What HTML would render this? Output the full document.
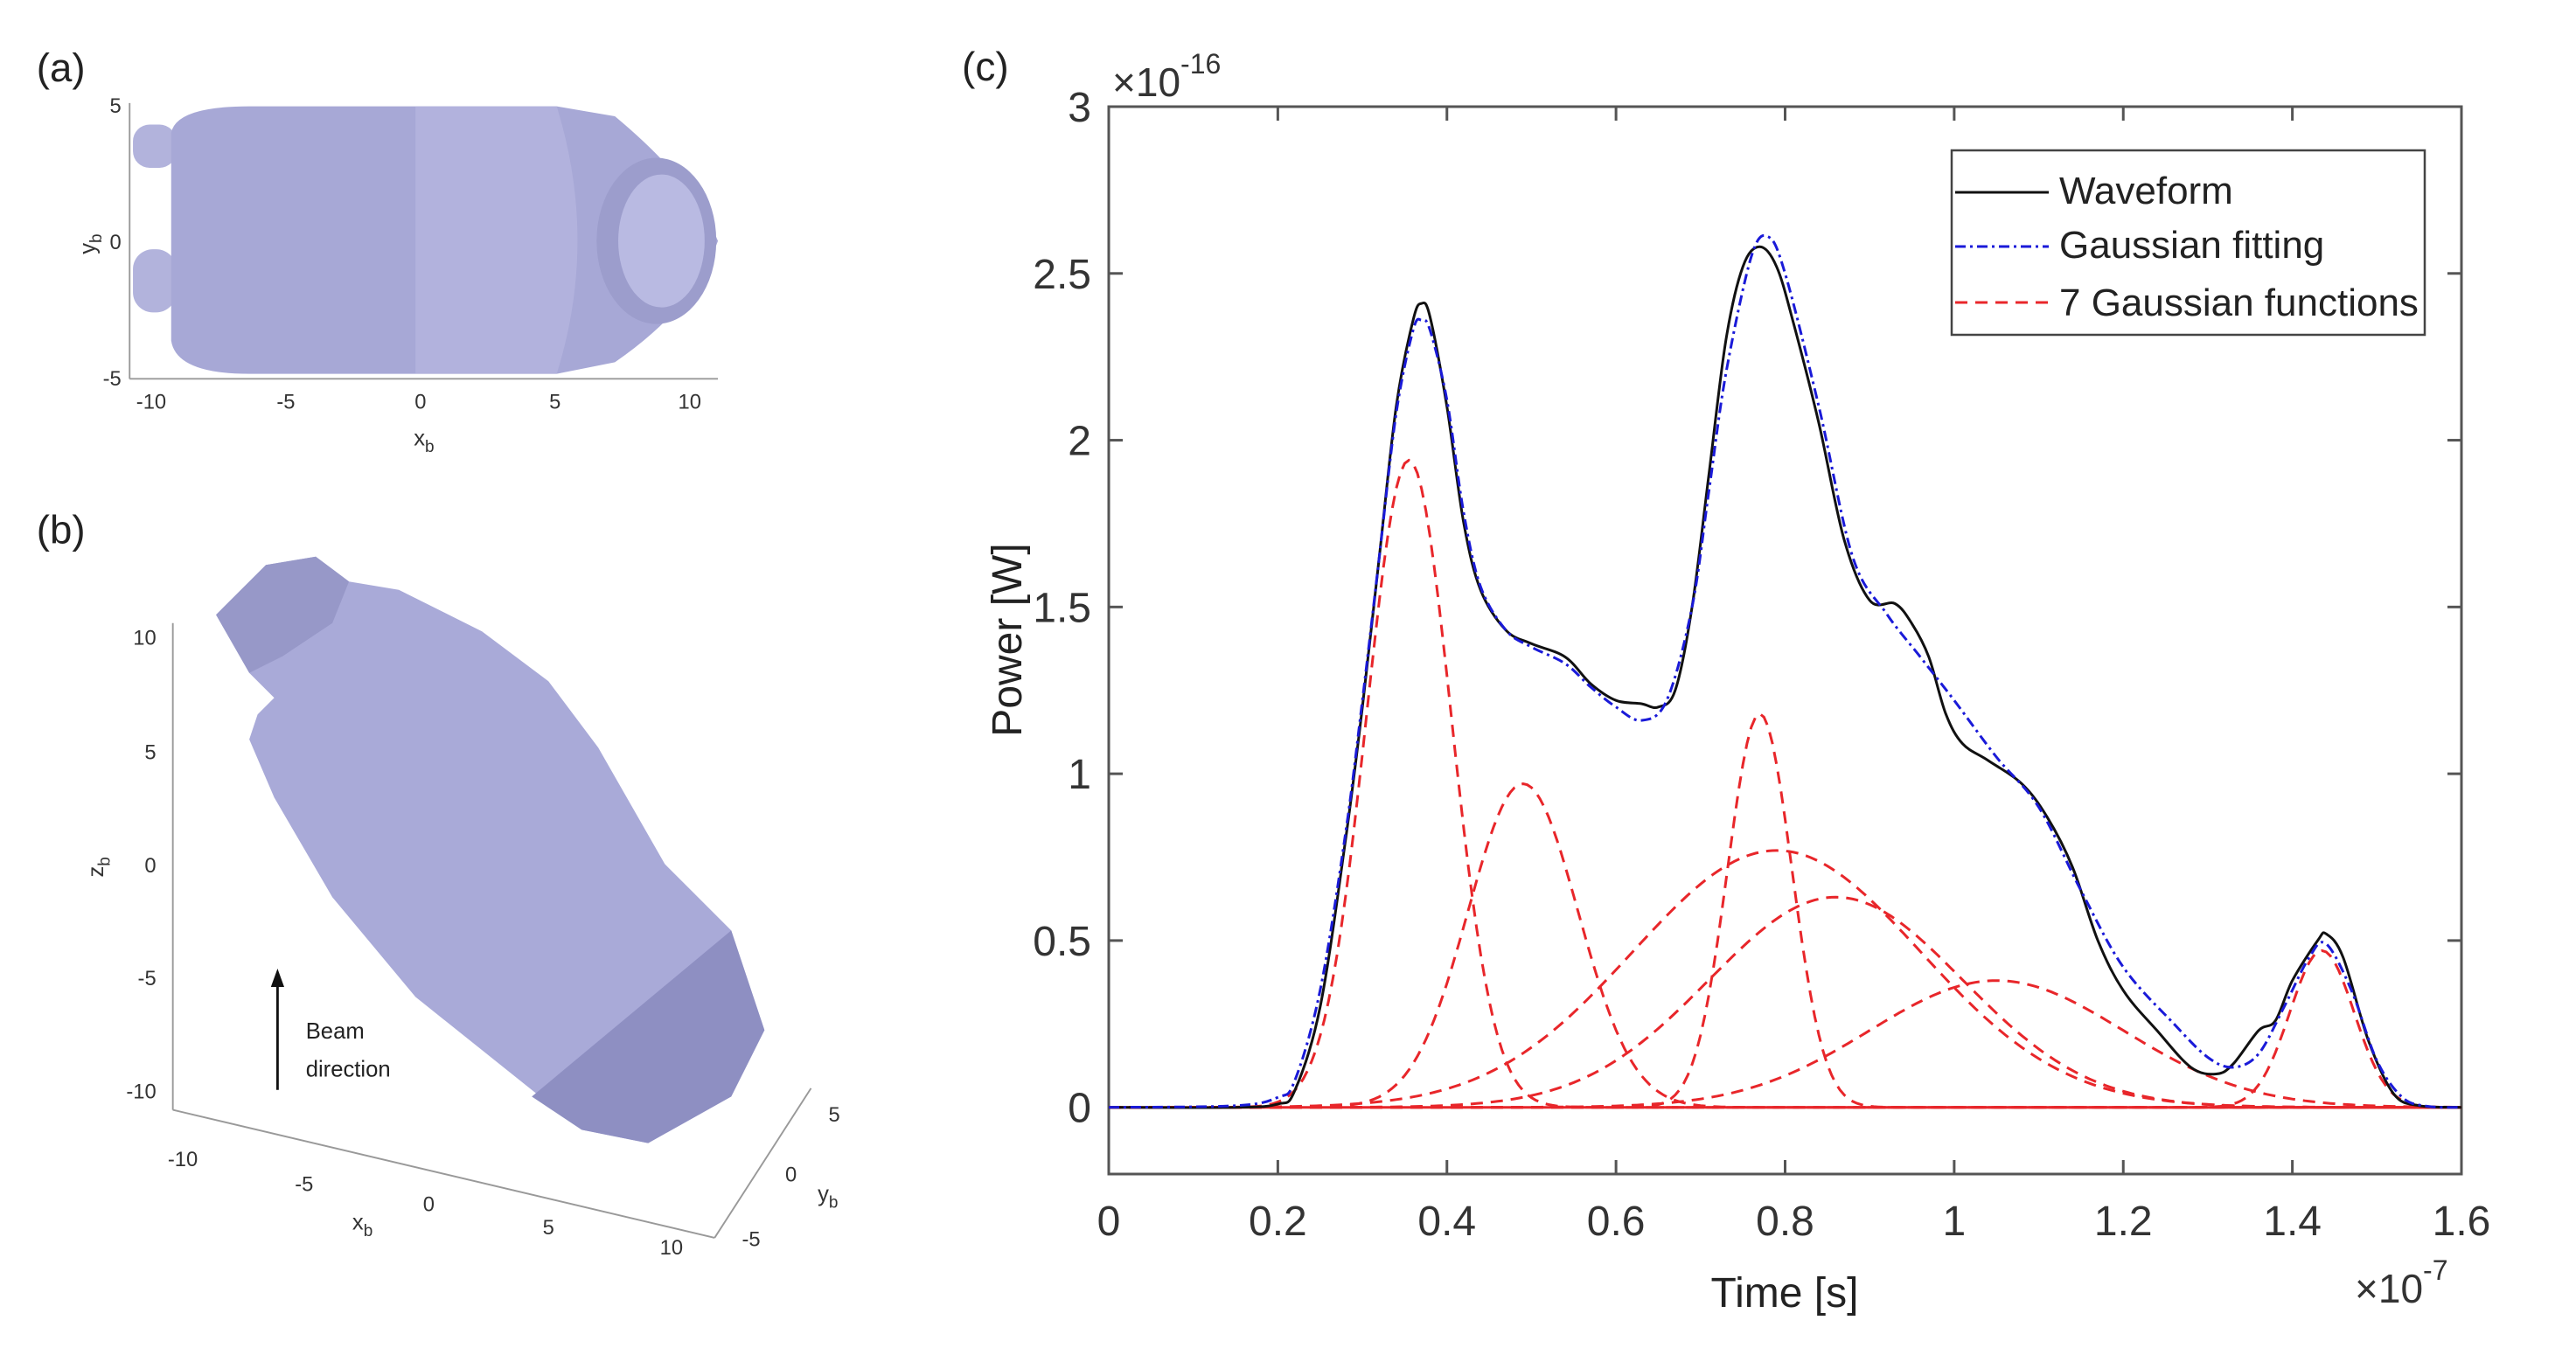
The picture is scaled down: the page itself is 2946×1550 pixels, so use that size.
<!DOCTYPE html>
<html><head><meta charset="utf-8"><style>
html,body{margin:0;padding:0;background:#fff;}
svg{display:block;font-family:"Liberation Sans",Arial,sans-serif;}
</style></head><body>
<svg id="fig" width="2946" height="1550" viewBox="0 0 2946 1550" xmlns="http://www.w3.org/2000/svg">
<rect width="2946" height="1550" fill="#fff"/>

<g transform="scale(1.9006)">
<!-- Panel (a) -->
<g>
  <text x="22" y="49" font-size="24" fill="#222">(a)</text>
  <g>
    <rect x="80" y="75" width="26" height="26" rx="10" fill="#b2b3dc"/>
    <rect x="80" y="150" width="26" height="38" rx="12" fill="#b2b3dc"/>
    <path d="M103,80 Q106,64 150,64 L335,64 L370,70 Q418,110 432,145 Q418,185 370,218 L335,225 L150,225 Q106,225 103,205 Z" fill="#a7a8d6"/>
    <path d="M250,64 L335,64 Q360,145 335,225 L250,225 Z" fill="#b6b7e0" opacity="0.7"/>
    <ellipse cx="395" cy="145" rx="36" ry="50" fill="#9c9dcc"/>
    <ellipse cx="398" cy="145" rx="26" ry="40" fill="#b9bae2"/>
  </g>
  <line x1="78" y1="62" x2="78" y2="228" stroke="#999" stroke-width="1"/>
  <line x1="78" y1="228" x2="432" y2="228" stroke="#999" stroke-width="1"/>
  <g font-size="12.5" fill="#333" text-anchor="end">
    <text x="73" y="68">5</text><text x="73" y="150">0</text><text x="73" y="232">-5</text>
  </g>
  <g font-size="12.5" fill="#333" text-anchor="middle">
    <text x="91" y="246">-10</text><text x="172" y="246">-5</text><text x="253" y="246">0</text><text x="334" y="246">5</text><text x="415" y="246">10</text>
  </g>
  <text x="249" y="268" font-size="13.5" fill="#333">x<tspan font-size="10" dy="4">b</tspan></text>
  <text transform="translate(57,153) rotate(-90)" font-size="13.5" fill="#333">y<tspan font-size="10" dy="4">b</tspan></text>
</g>

<!-- Panel (b) -->
<g>
  <text x="22" y="327" font-size="24" fill="#222">(b)</text>
  <g>
    <path d="M130,370 L160,340 L190,335 L210,350 L240,355 L290,380 L330,410 L360,450 L400,520 L440,560 L460,620 L440,660 L390,688 L350,680 L300,640 L250,600 L200,540 L165,480 L150,445 L155,430 L165,420 L150,405 Z" fill="#a9aad8"/>
    <path d="M320,660 L440,560 L460,620 L440,660 L390,688 L350,680 Z" fill="#8e8fc2"/>
    <path d="M130,370 L160,340 L190,335 L210,350 L200,375 L170,395 L150,405 Z" fill="#9798c8"/>
  </g>
  <line x1="104" y1="375" x2="104" y2="668" stroke="#999" stroke-width="1"/>
  <line x1="104" y1="668" x2="430" y2="745" stroke="#999" stroke-width="1"/>
  <line x1="430" y1="745" x2="488" y2="655" stroke="#999" stroke-width="1"/>
  <g font-size="12.5" fill="#333" text-anchor="end">
    <text x="94" y="388">10</text><text x="94" y="457">5</text><text x="94" y="525">0</text><text x="94" y="593">-5</text><text x="94" y="661">-10</text>
  </g>
  <g font-size="12.5" fill="#333" text-anchor="middle">
    <text x="110" y="702">-10</text><text x="183" y="717">-5</text><text x="258" y="729">0</text><text x="330" y="743">5</text><text x="404" y="755">10</text>
    <text x="502" y="675">5</text><text x="476" y="711">0</text><text x="452" y="750">-5</text>
  </g>
  <text x="212" y="740" font-size="13.5" fill="#333">x<tspan font-size="10" dy="4">b</tspan></text>
  <text x="492" y="723" font-size="13.5" fill="#333">y<tspan font-size="10" dy="4">b</tspan></text>
  <text transform="translate(62,528) rotate(-90)" font-size="13.5" fill="#333">z<tspan font-size="10" dy="4">b</tspan></text>
  <line x1="167" y1="656" x2="167" y2="592" stroke="#111" stroke-width="1.5"/>
  <path d="M163,594 L167,583 L171,594 Z" fill="#111"/>
  <text x="184" y="625" font-size="13.5" fill="#222">Beam</text>
  <text x="184" y="648" font-size="13.5" fill="#222">direction</text>
</g>
</g>

<!-- Panel (c) -->
<g id="chart">
  <text x="1100" y="92" font-size="46" fill="#222">(c)</text>
  <rect x="1268" y="122" width="1547" height="1221" fill="#fff" stroke="#555" stroke-width="3"/>
  <g id="ticks"></g>
  <g id="series"></g>
  <text x="1272" y="110" font-size="46" fill="#333">×10<tspan font-size="32" dy="-26">-16</tspan></text>
  <text x="2693" y="1490" font-size="46" fill="#333">×10<tspan font-size="32" dy="-26">-7</tspan></text>
  <text x="2041" y="1495" font-size="48" fill="#222" text-anchor="middle">Time [s]</text>
  <text transform="translate(1168,732) rotate(-90)" font-size="48" fill="#222" text-anchor="middle">Power [W]</text>
  <g>
    <rect x="2232" y="172" width="541" height="211" fill="#fff" stroke="#444" stroke-width="2.5"/>
    <g>
      <line x1="2236" y1="220" x2="2343" y2="220" stroke="#111" stroke-width="3"/>
      <text x="2355" y="233" font-size="44" fill="#222">Waveform</text>
    </g>
    <g>
      <line x1="2236" y1="282" x2="2343" y2="282" stroke="#1a1ad8" stroke-width="3" stroke-dasharray="12,5,3,5"/>
      <text x="2355" y="295" font-size="44" fill="#222">Gaussian fitting</text>
    </g>
    <g>
      <line x1="2236" y1="346" x2="2343" y2="346" stroke="#e8262a" stroke-width="3" stroke-dasharray="14,9"/>
      <text x="2355" y="361" font-size="44" fill="#222">7 Gaussian functions</text>
    </g>
  </g>
</g>
</svg>
<script>
// ---- data (time in 1e-7 s, power in 1e-16 W) ----
const xTicks = [0, 0.2, 0.4, 0.6, 0.8, 1, 1.2, 1.4, 1.6];
const xTickLabels = ["0","0.2","0.4","0.6","0.8","1","1.2","1.4","1.6"];
const yTicks = [0, 0.5, 1, 1.5, 2, 2.5, 3];
const yTickLabels = ["0","0.5","1","1.5","2","2.5","3"];
const waveT = [0,0.15,0.2,0.22,0.25,0.28,0.3,0.32,0.34,0.36,0.37,0.38,0.40,0.42,0.44,0.47,0.5,0.54,0.57,0.6,0.63,0.65,0.67,0.69,0.71,0.73,0.75,0.77,0.79,0.81,0.84,0.87,0.9,0.93,0.95,0.97,0.99,1.01,1.04,1.08,1.11,1.14,1.17,1.2,1.24,1.28,1.31,1.33,1.36,1.38,1.40,1.43,1.44,1.46,1.49,1.52,1.55,1.6];
const waveP = [0,0,0.01,0.05,0.3,0.8,1.2,1.65,2.1,2.36,2.41,2.37,2.1,1.75,1.55,1.43,1.39,1.35,1.27,1.22,1.21,1.2,1.25,1.5,1.9,2.3,2.52,2.58,2.52,2.35,2.05,1.7,1.52,1.51,1.45,1.35,1.18,1.09,1.04,0.97,0.87,0.72,0.5,0.35,0.23,0.12,0.1,0.13,0.23,0.26,0.38,0.5,0.52,0.45,0.2,0.04,0.005,0];
const fitT = [0,0.15,0.2,0.22,0.25,0.28,0.3,0.32,0.34,0.36,0.37,0.38,0.4,0.42,0.44,0.47,0.5,0.54,0.57,0.6,0.63,0.66,0.69,0.71,0.73,0.76,0.78,0.8,0.84,0.88,0.92,0.96,1.0,1.05,1.1,1.15,1.2,1.26,1.3,1.33,1.36,1.39,1.42,1.44,1.47,1.5,1.53,1.56,1.6];
const fitP = [0,0.005,0.03,0.08,0.35,0.82,1.22,1.65,2.08,2.33,2.36,2.33,2.12,1.78,1.56,1.43,1.38,1.33,1.26,1.2,1.16,1.22,1.5,1.85,2.2,2.55,2.61,2.5,2.1,1.65,1.48,1.35,1.22,1.05,0.9,0.65,0.42,0.25,0.15,0.12,0.16,0.3,0.45,0.49,0.35,0.14,0.03,0.003,0];
const gAmp = [1.94, 0.97, 1.18, 0.77, 0.63, 0.38, 0.47];
const gCenter = [0.355, 0.49, 0.77, 0.79, 0.86, 1.05, 1.435];
const gWidth = [0.05, 0.065, 0.038, 0.17, 0.15, 0.15, 0.038];

const X0=1268, X1=2815, Y0=1343, Y1=122, XMIN=0, XMAX=1.6, YMIN=-0.2, YMAX=3;
function sx(v){return X0+(v-XMIN)/(XMAX-XMIN)*(X1-X0);}
function sy(v){return Y0-(v-YMIN)/(YMAX-YMIN)*(Y0-Y1);}
const NS="http://www.w3.org/2000/svg";
const tg=document.getElementById('ticks'), sg=document.getElementById('series');
function mk(tag,attrs,parent){const e=document.createElementNS(NS,tag);for(const k in attrs)e.setAttribute(k,attrs[k]);parent.appendChild(e);return e;}
xTicks.forEach((v,i)=>{
  const x=sx(v);
  const t1=mk('line',{x1:x,y1:Y0,x2:x,y2:Y0-16,stroke:'#555','stroke-width':3},tg);
  
  
  mk('line',{x1:x,y1:Y1,x2:x,y2:Y1+16,stroke:'#555','stroke-width':3},tg);
  const t=mk('text',{x:x,y:1413,'font-size':48,fill:'#333','text-anchor':'middle'},tg);
  t.textContent=xTickLabels[i];
  
  
});
yTicks.forEach((v,i)=>{
  const y=sy(v);
  const t1=mk('line',{x1:X0,y1:y,x2:X0+16,y2:y,stroke:'#555','stroke-width':3},tg);
  
  
  mk('line',{x1:X1,y1:y,x2:X1-16,y2:y,stroke:'#555','stroke-width':3},tg);
  const t=mk('text',{x:1248,y:y+17,'font-size':48,fill:'#333','text-anchor':'end'},tg);
  t.textContent=yTickLabels[i];
  
  
});
function smooth(T,P){
  const pts=T.map((t,i)=>[sx(t),sy(P[i])]);
  let d='M'+pts[0][0]+','+pts[0][1];
  for(let i=0;i<pts.length-1;i++){
    const p0=pts[Math.max(0,i-1)],p1=pts[i],p2=pts[i+1],p3=pts[Math.min(pts.length-1,i+2)];
    const c1=[p1[0]+(p2[0]-p0[0])/6,p1[1]+(p2[1]-p0[1])/6];
    const c2=[p2[0]-(p3[0]-p1[0])/6,p2[1]-(p3[1]-p1[1])/6];
    d+=' C'+c1[0].toFixed(1)+','+c1[1].toFixed(1)+' '+c2[0].toFixed(1)+','+c2[1].toFixed(1)+' '+p2[0].toFixed(1)+','+p2[1].toFixed(1);
  }
  return d;
}
const zl=mk('line',{x1:X0,y1:sy(0),x2:X1,y2:sy(0),stroke:'#e8262a','stroke-width':3},sg);


gAmp.forEach((a,k)=>{
  let d='';
  for(let i=0;i<=320;i++){
    const t=XMIN+(XMAX-XMIN)*i/320;
    const v=a*Math.exp(-Math.pow(t-gCenter[k],2)/(2*gWidth[k]*gWidth[k]));
    d+=(i?' L':'M')+sx(t).toFixed(1)+','+sy(v).toFixed(1);
  }
  const p=mk('path',{d:d,fill:'none',stroke:'#e8262a','stroke-width':3,'stroke-dasharray':'14,9'},sg);
  
  
});
const wf=mk('path',{d:smooth(waveT,waveP),fill:'none',stroke:'#111','stroke-width':3},sg);


const ft=mk('path',{d:smooth(fitT,fitP),fill:'none',stroke:'#1a1ad8','stroke-width':3,'stroke-dasharray':'12,5,3,5'},sg);


</script>
</body></html>
